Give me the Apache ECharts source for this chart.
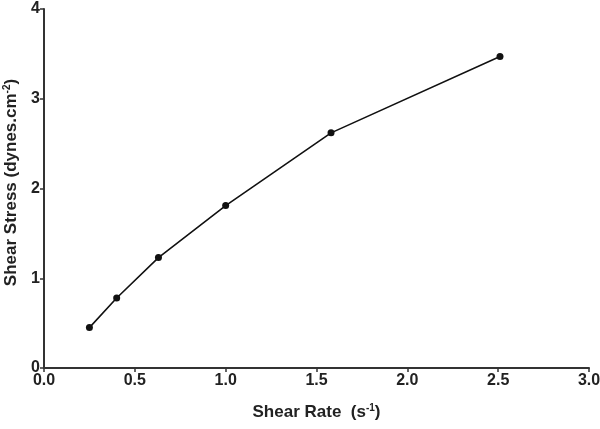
<!DOCTYPE html>
<html>
<head>
<meta charset="utf-8">
<script src="https://cdn.jsdelivr.net/npm/echarts@6/dist/echarts.min.js"></script>
<style>
  html, body { margin: 0; padding: 0; background: #fff; }
  #chart { width: 600px; height: 429px; }
</style>
</head>
<body>
<div id="chart"></div>
<script>
// shear rate (s^-1) and shear stress (dynes.cm^-2)
const shearRate = [0.25, 0.40, 0.63, 1.00, 1.58, 2.51];
const shearStress = [0.45, 0.78, 1.23, 1.81, 2.62, 3.47];
const xTicks = [0, 0.5, 1.0, 1.5, 2.0, 2.5, 3.0];
const yTicks = [0, 1, 2, 3, 4];

const chart = echarts.init(document.getElementById('chart'));

const axisFont = {
  fontFamily: 'Liberation Sans, Arial, sans-serif',
  fontWeight: 'bold',
  color: '#222'
};

chart.setOption({
  animation: false,
  grid: { left: 44, right: 11, top: 9, bottom: 61, outerBoundsMode: 'none', containLabel: false },
  xAxis: {
    type: 'value',
    min: xTicks[0],
    max: xTicks[xTicks.length - 1],
    interval: 0.5,
    splitLine: { show: false },
    axisLine: { lineStyle: { color: '#333', width: 2 } },
    axisTick: { lineStyle: { color: '#333', width: 1.5 }, length: 4 },
    axisLabel: Object.assign({ fontSize: 16, margin: 5,
      formatter: v => v.toFixed(1) }, axisFont),
    name: '{n|Shear Rate  (s}{s|-1}{n|)}',
    nameLocation: 'middle',
    nameGap: 35,
    nameTextStyle: {
      rich: {
        n: Object.assign({ fontSize: 17 }, axisFont),
        s: Object.assign({ fontSize: 10, verticalAlign: 'top', padding: [0, 0, 9, 0] }, axisFont)
      }
    }
  },
  yAxis: {
    type: 'value',
    min: yTicks[0],
    max: yTicks[yTicks.length - 1],
    interval: 1,
    splitLine: { show: false },
    axisLine: { lineStyle: { color: '#333', width: 2 } },
    axisTick: { lineStyle: { color: '#333', width: 1.5 }, length: 4 },
    axisLabel: Object.assign({ fontSize: 16, margin: 4 }, axisFont),
    name: '{n|Shear Stress (dynes.cm}{s|-2}{n|)}',
    nameLocation: 'middle',
    nameGap: 23,
    nameTextStyle: {
      padding: [0, 0, 0, 12],
      rich: {
        n: Object.assign({ fontSize: 17 }, axisFont),
        s: Object.assign({ fontSize: 10, verticalAlign: 'top', padding: [0, 0, 9, 0] }, axisFont)
      }
    }
  },
  series: [{
    type: 'line',
    data: shearRate.map((x, i) => [x, shearStress[i]]),
    symbol: 'circle',
    symbolSize: 7,
    itemStyle: { color: '#111' },
    lineStyle: { color: '#111', width: 1.6 }
  }]
});
</script>
</body>
</html>
